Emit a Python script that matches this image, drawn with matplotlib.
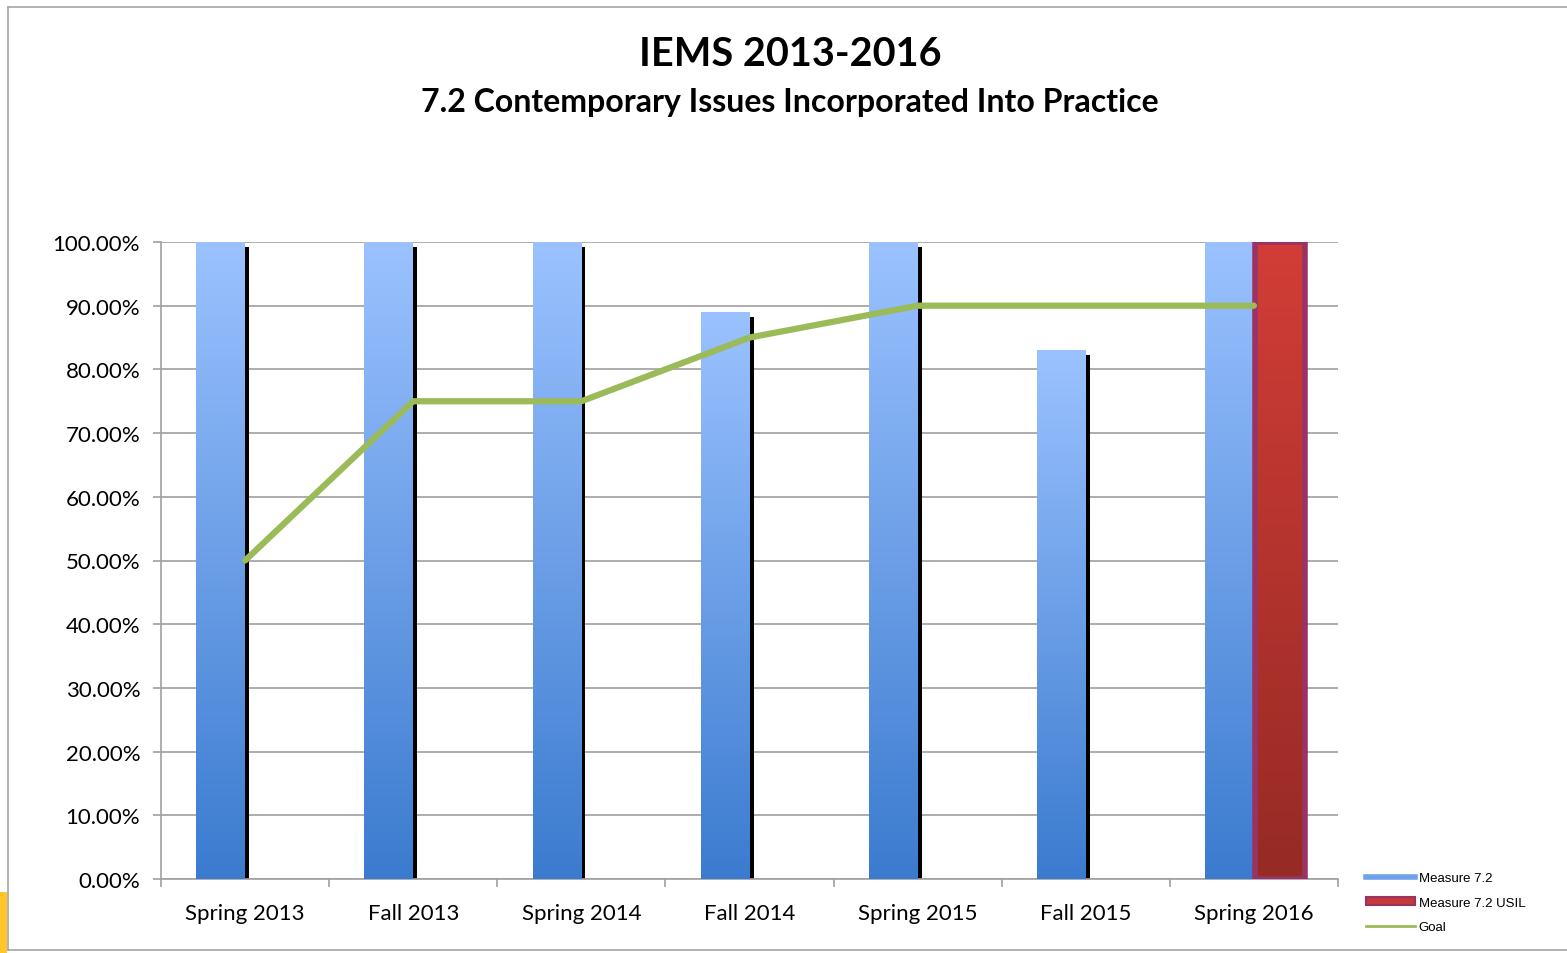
import matplotlib.pyplot as plt
import numpy as np
from matplotlib.colors import LinearSegmentedColormap
from matplotlib.lines import Line2D
from matplotlib.patches import Patch, Rectangle

# data
categories = ["Spring 2013", "Fall 2013", "Spring 2014", "Fall 2014",
              "Spring 2015", "Fall 2015", "Spring 2016"]
measure = [100, 100, 100, 89, 100, 83, 100]
usil = [0, 0, 0, 0, 0, 0, 100]
goal = [50, 75, 75, 85, 90, 90, 90]
y_ticks = [0, 10, 20, 30, 40, 50, 60, 70, 80, 90, 100]

plt.rcParams['font.family'] = ['Lato', 'DejaVu Sans']

W, H = 1567, 954
fig = plt.figure(figsize=(W / 100, H / 100), dpi=100)
ax = fig.add_axes([161 / W, 1 - 880 / H, (1338 - 161) / W, (880 - 243) / H])

x = np.arange(len(categories))
bw = 0.29

blue_cmap = LinearSegmentedColormap.from_list("b", ["#3b7bcf", "#9bc2ff"])
red_cmap = LinearSegmentedColormap.from_list("r", ["#962a25", "#d23d37"])
grad = np.linspace(0, 1, 256).reshape(-1, 1)

# shadow behind the blue bars
ax.bar(x + 0.012, np.array(measure) - 0.8, width=0.024, color="black", zorder=2)

blue = ax.bar(x - bw / 2, measure, width=bw, color="none", zorder=3)
for r in blue:
    x0, w, h = r.get_x(), r.get_width(), r.get_height()
    ax.imshow(grad, cmap=blue_cmap, extent=(x0, x0 + w, 0, h), origin="lower",
              aspect="auto", zorder=3)

red = ax.bar(x + 0.155, usil, width=0.3, color="none", zorder=4)
for r in red:
    x0, w, h = r.get_x(), r.get_width(), r.get_height()
    if h <= 0:
        continue
    ax.imshow(grad, cmap=red_cmap, extent=(x0, x0 + w, 0, h), origin="lower",
              aspect="auto", zorder=4)
    ax.add_patch(Rectangle((x0, 0), w, h, fill=False, edgecolor="#993366",
                           linewidth=4, zorder=5))

ax.plot(x, goal, color="#9bbb59", linewidth=4.5, solid_capstyle="round",
        solid_joinstyle="round", zorder=6)

ax.set_xlim(-0.5, len(categories) - 0.5)
ax.set_ylim(0, 100)
ax.set_yticks(y_ticks)
ax.set_yticklabels([f"{v:.2f}%" for v in y_ticks], fontsize=16)
ax.set_xticks(x)
ax.set_xticklabels(categories, fontsize=16)
ax.set_xticks(np.arange(-0.5, len(categories), 1), minor=True)
ax.tick_params(axis="x", which="major", length=0, pad=17)
ax.tick_params(axis="x", which="minor", length=6, color="#a0a0a0", width=1.2)
ax.tick_params(axis="y", length=6, color="#a0a0a0", width=1.2, pad=9)
ax.grid(axis="y", color="#a6a6a6", linewidth=1.3, zorder=0)
ax.set_axisbelow(True)
for s in ["top", "right"]:
    ax.spines[s].set_visible(False)
for s in ["left", "bottom"]:
    ax.spines[s].set_color("#a0a0a0")
    ax.spines[s].set_linewidth(1.2)

fig.text(790 / W, 1 - 55 / H, "IEMS 2013-2016", ha="center", va="center",
         fontsize=28.5, fontweight="bold")
fig.text(790 / W, 1 - 103 / H, "7.2 Contemporary Issues Incorporated Into Practice",
         ha="center", va="center", fontsize=23, fontweight="bold")

handles = [
    Line2D([], [], color="#6fa0ea", linewidth=4),
    Patch(facecolor="#c43a36", edgecolor="#993366", linewidth=1.5),
    Line2D([], [], color="#9bbb59", linewidth=2),
]
fig.legend(handles, ["Measure 7.2", "Measure 7.2 USIL", "Goal"],
           loc="upper left", bbox_to_anchor=(1366 / W, 1 - 873 / H),
           frameon=False, prop={"family": "Liberation Sans", "size": 9.5},
           handlelength=3.7, handleheight=0.6, handletextpad=0.3,
           labelspacing=0.95, borderaxespad=0, borderpad=0)

# frame and corner like the screenshot
fig.add_artist(Line2D([8 / W, 1, 1], [1 - 8 / H, 1 - 8 / H, 1 - 8 / H],
                      transform=fig.transFigure, color="#a6a6a6", linewidth=1.2))
fig.add_artist(Line2D([8 / W, 8 / W], [1 - 8 / H, 1 - 951 / H],
                      transform=fig.transFigure, color="#a6a6a6", linewidth=1.2))
fig.add_artist(Line2D([8 / W, 1], [1 - 951 / H, 1 - 951 / H],
                      transform=fig.transFigure, color="#a6a6a6", linewidth=1.2))
fig.add_artist(Rectangle((0, 0), 7 / W, 61 / H, transform=fig.transFigure,
                         facecolor="#ffc629", edgecolor="none"))

fig.savefig("out.png", dpi=100)
